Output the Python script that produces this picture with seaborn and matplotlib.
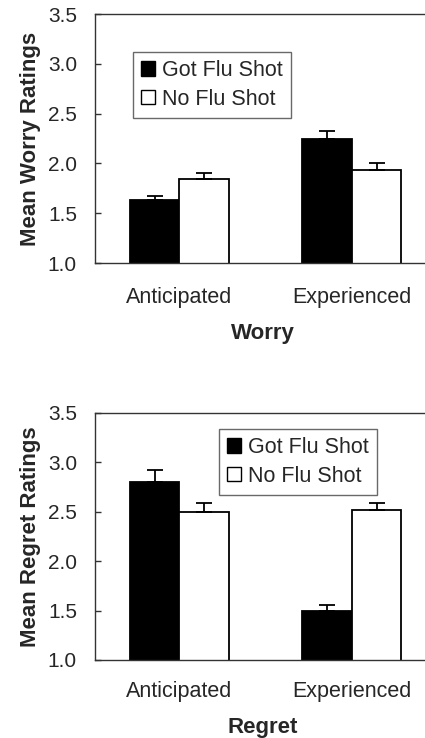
import pandas as pd
import matplotlib.pyplot as plt
import seaborn as sns
from matplotlib.patches import Patch

# data
conditions = ['Anticipated', 'Experienced']
groups = ['Got Flu Shot', 'No Flu Shot']
worry_got = [1.63, 2.25]
worry_no = [1.84, 1.93]
worry_got_se = [0.04, 0.08]
worry_no_se = [0.06, 0.07]
regret_got = [2.80, 1.50]
regret_no = [2.50, 2.52]
regret_got_se = [0.12, 0.06]
regret_no_se = [0.09, 0.07]
yticks = [1.0, 1.5, 2.0, 2.5, 3.0, 3.5]

sns.set_style('white')
plt.rcParams['font.family'] = ['Liberation Sans', 'DejaVu Sans']

fig = plt.figure(figsize=(4.25, 7.38), dpi=100)
ax1 = fig.add_axes([0.2235, 0.6436, 0.79, 0.3374])
ax2 = fig.add_axes([0.2235, 0.1057, 0.79, 0.3347])


def panel(ax, got, no, got_se, no_se, ylabel, xlabel, legend_loc, xpad):
    df = pd.DataFrame({
        'condition': conditions * 2,
        'group': [groups[0]] * 2 + [groups[1]] * 2,
        'value': got + no,
        'se': got_se + no_se,
    })
    sns.barplot(data=df, x='condition', y='value', hue='group',
                palette=['black', 'white'], edgecolor='black', linewidth=1.3,
                width=0.58, errorbar=None, legend=False, ax=ax, saturation=1)
    # one-sided error bars on top of the bars
    for bars, (_, sub) in zip(ax.containers, df.groupby('group', sort=False)):
        xs = [b.get_x() + b.get_width() / 2 for b in bars]
        ax.errorbar(xs, sub['value'], yerr=[[0] * len(xs), list(sub['se'])],
                    fmt='none', ecolor='black', elinewidth=1.3, capsize=6,
                    capthick=1.3)
    ax.set_ylim(1.0, 3.5)
    ax.set_xlim(-0.491, 1.46)
    ax.set_yticks(yticks)
    ax.set_yticklabels(['%.1f' % t for t in yticks], fontsize=15)
    ax.tick_params(axis='y', length=4, width=1, pad=13, left=True,
                   direction='in', color='#333333')
    ax.tick_params(axis='x', length=0, pad=xpad, labelsize=15.5)
    ax.set_ylabel(ylabel, fontsize=16, fontweight='bold', labelpad=5)
    ax.set_xlabel(xlabel, fontsize=16, fontweight='bold', labelpad=11)
    for s in ['left', 'top', 'bottom']:
        ax.spines[s].set_color('#333333')
        ax.spines[s].set_linewidth(1)
    ax.spines['right'].set_visible(False)
    handles = [Patch(facecolor='black', edgecolor='black', label=groups[0]),
               Patch(facecolor='white', edgecolor='black', label=groups[1])]
    leg = ax.legend(handles=handles, loc='upper left', bbox_to_anchor=legend_loc,
                    fontsize=15.5, frameon=True, fancybox=False,
                    handlelength=0.65, handleheight=0.65, handletextpad=0.3,
                    labelspacing=0.35, borderpad=0.4, borderaxespad=0)
    leg.get_frame().set_edgecolor('#444444')
    leg.get_frame().set_linewidth(1)


panel(ax1, worry_got, worry_no, worry_got_se, worry_no_se,
      'Mean Worry Ratings', 'Worry', (0.112, 0.849), 17)
panel(ax2, regret_got, regret_no, regret_got_se, regret_no_se,
      'Mean Regret Ratings', 'Regret', (0.368, 0.937), 15)

plt.savefig('out.png', dpi=100)
